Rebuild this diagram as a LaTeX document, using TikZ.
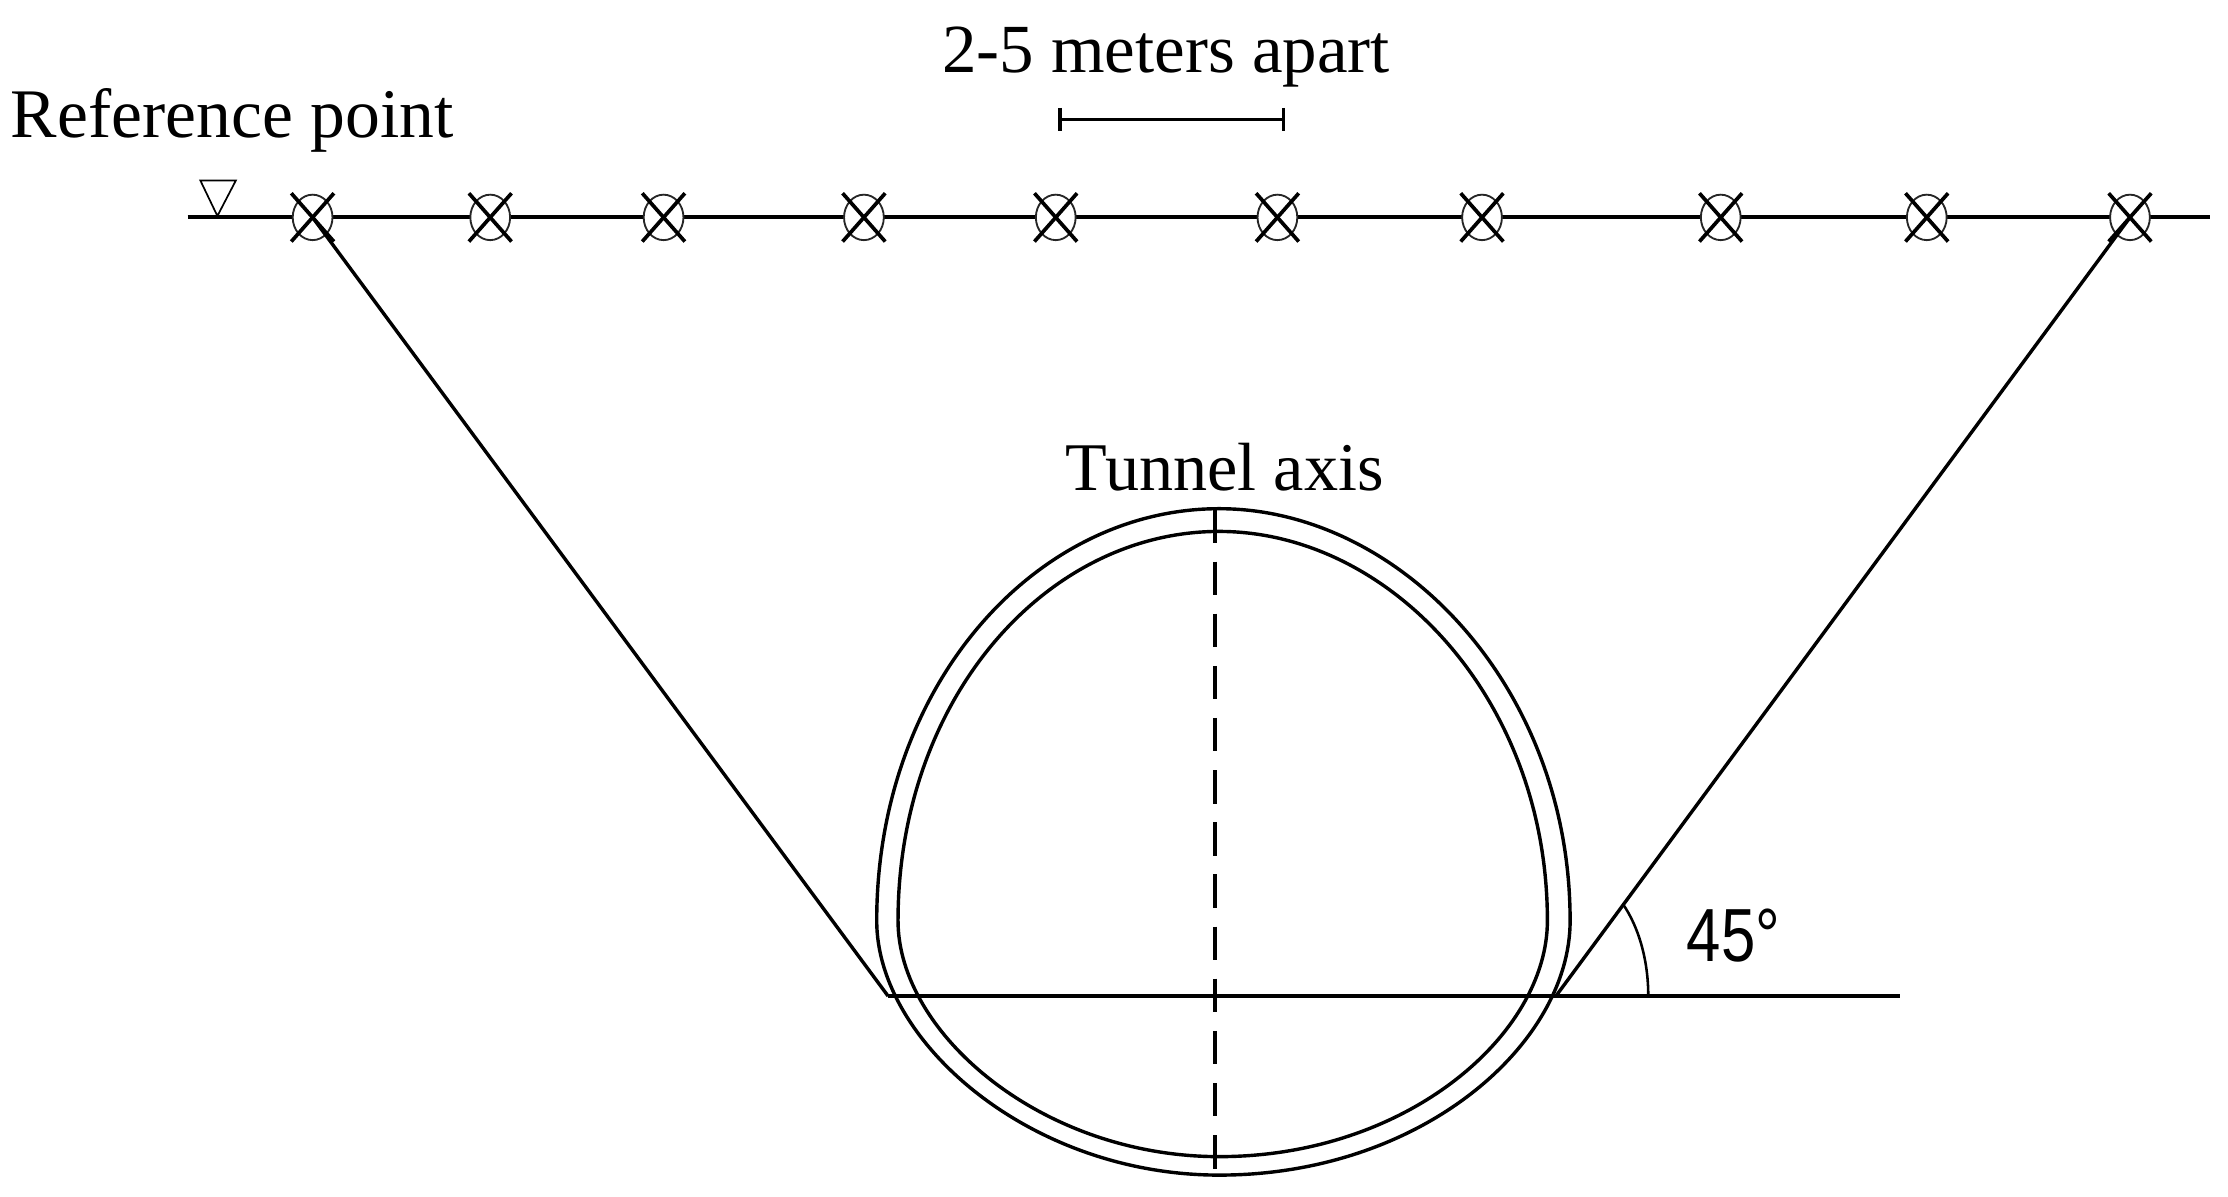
\documentclass[tikz,border=0pt]{standalone}
\usepackage{fontspec}
\usepackage{graphicx}
\setmainfont{Liberation Serif}
\newfontfamily\sansnarrow{Liberation Sans}
\usetikzlibrary{shapes.geometric}
\tikzset{
  x=1pt,y=-1pt,
  every node/.style={inner sep=0pt,outer sep=0pt},
  gauge/.style={ellipse,draw,draw=black!85,line width=1.3pt,minimum width=28pt,minimum height=32pt,fill=white},
  crossline/.style={line width=2.6pt},
  mainline/.style={line width=2.8pt},
  slopeline/.style={line width=2.4pt},
  ringline/.style={line width=2.4pt},
  lbl/.style={font=\fontsize{48}{50}\selectfont,anchor=base},
}
\begin{document}
\begin{tikzpicture}
\useasboundingbox (0,0) rectangle (1568,842.4);
\coordinate (Ls) at (132,153);
\coordinate (Le) at (1555,153);
\draw[mainline] (Ls) -- (Le);
\foreach \i/\px in {1/220,2/345,3/467,4/608,5/743,6/899,7/1043,8/1211,9/1356,10/1499}{
  \node[gauge] (g\i) at (\px,153) {};
  \draw[crossline] (\px-15,136) -- (\px+15,170);
  \draw[crossline] (\px+15,136) -- (\px-15,170);
}
\draw[line width=1.2pt] (141,127) -- (166,127) -- (153,152) -- cycle;
% ring
\coordinate (ot) at (858,358);
\coordinate (or) at (1105,648);
\coordinate (ob) at (858,827);
\coordinate (ol) at (617,648);
\draw[ringline] (ot) .. controls (985,358) and (1105,483) .. (or)
  .. controls (1105,735) and (1000,827) .. (ob)
  .. controls (725,827) and (617,733) .. (ol)
  .. controls (617,483) and (728,358) .. (ot) -- cycle;
\coordinate (it) at (858,374);
\coordinate (ir) at (1089,648);
\coordinate (ib) at (858,814);
\coordinate (il) at (632,648);
\draw[ringline] (it) .. controls (978,374) and (1089,492) .. (ir)
  .. controls (1089,728) and (990,814) .. (ib)
  .. controls (733,814) and (632,727) .. (il)
  .. controls (632,492) and (736,374) .. (it) -- cycle;
\coordinate (axT) at (855,358.5);
\coordinate (axB) at (855,822.5);
\draw[line width=2.4pt,dash pattern=on 23.5pt off 13.2pt] (axT) -- (axB);
% slopes
\coordinate (A) at (625,701);
\coordinate (B) at (1095,701);
\coordinate (H) at (1337,701);
\draw[slopeline] (g1.center) -- (A);
\draw[slopeline] (g10.center) -- (B);
\draw[mainline] (A) -- (H);
\coordinate (a1) at (1142,636);
\coordinate (a2) at (1160,701);
\draw[line width=1.8pt] (a1) .. controls (1153,652) and (1160,675) .. (a2);
% scale bar
\coordinate (s1) at (746,84);
\coordinate (s2) at (903,84);
\draw[line width=2.2pt] (s1) -- (s2);
\draw[line width=2.2pt] (746,76) -- (746,92);
\draw[line width=2.2pt] (903,76) -- (903,92);
% text
\node[lbl,font=\fontsize{49}{50}\selectfont] (refpt) at (163.5,97) {Reference point};
\node[lbl,font=\fontsize{48.5}{50}\selectfont] (apart) at (820.5,51) {2-5 meters apart};
\node[lbl] (axis) at (862,345) {Tunnel axis};
\node[anchor=base] (ang) at (1220,677) {\scalebox{0.82}[1]{\sansnarrow\fontsize{53}{55}\selectfont 45°}};
\end{tikzpicture}
\end{document}
